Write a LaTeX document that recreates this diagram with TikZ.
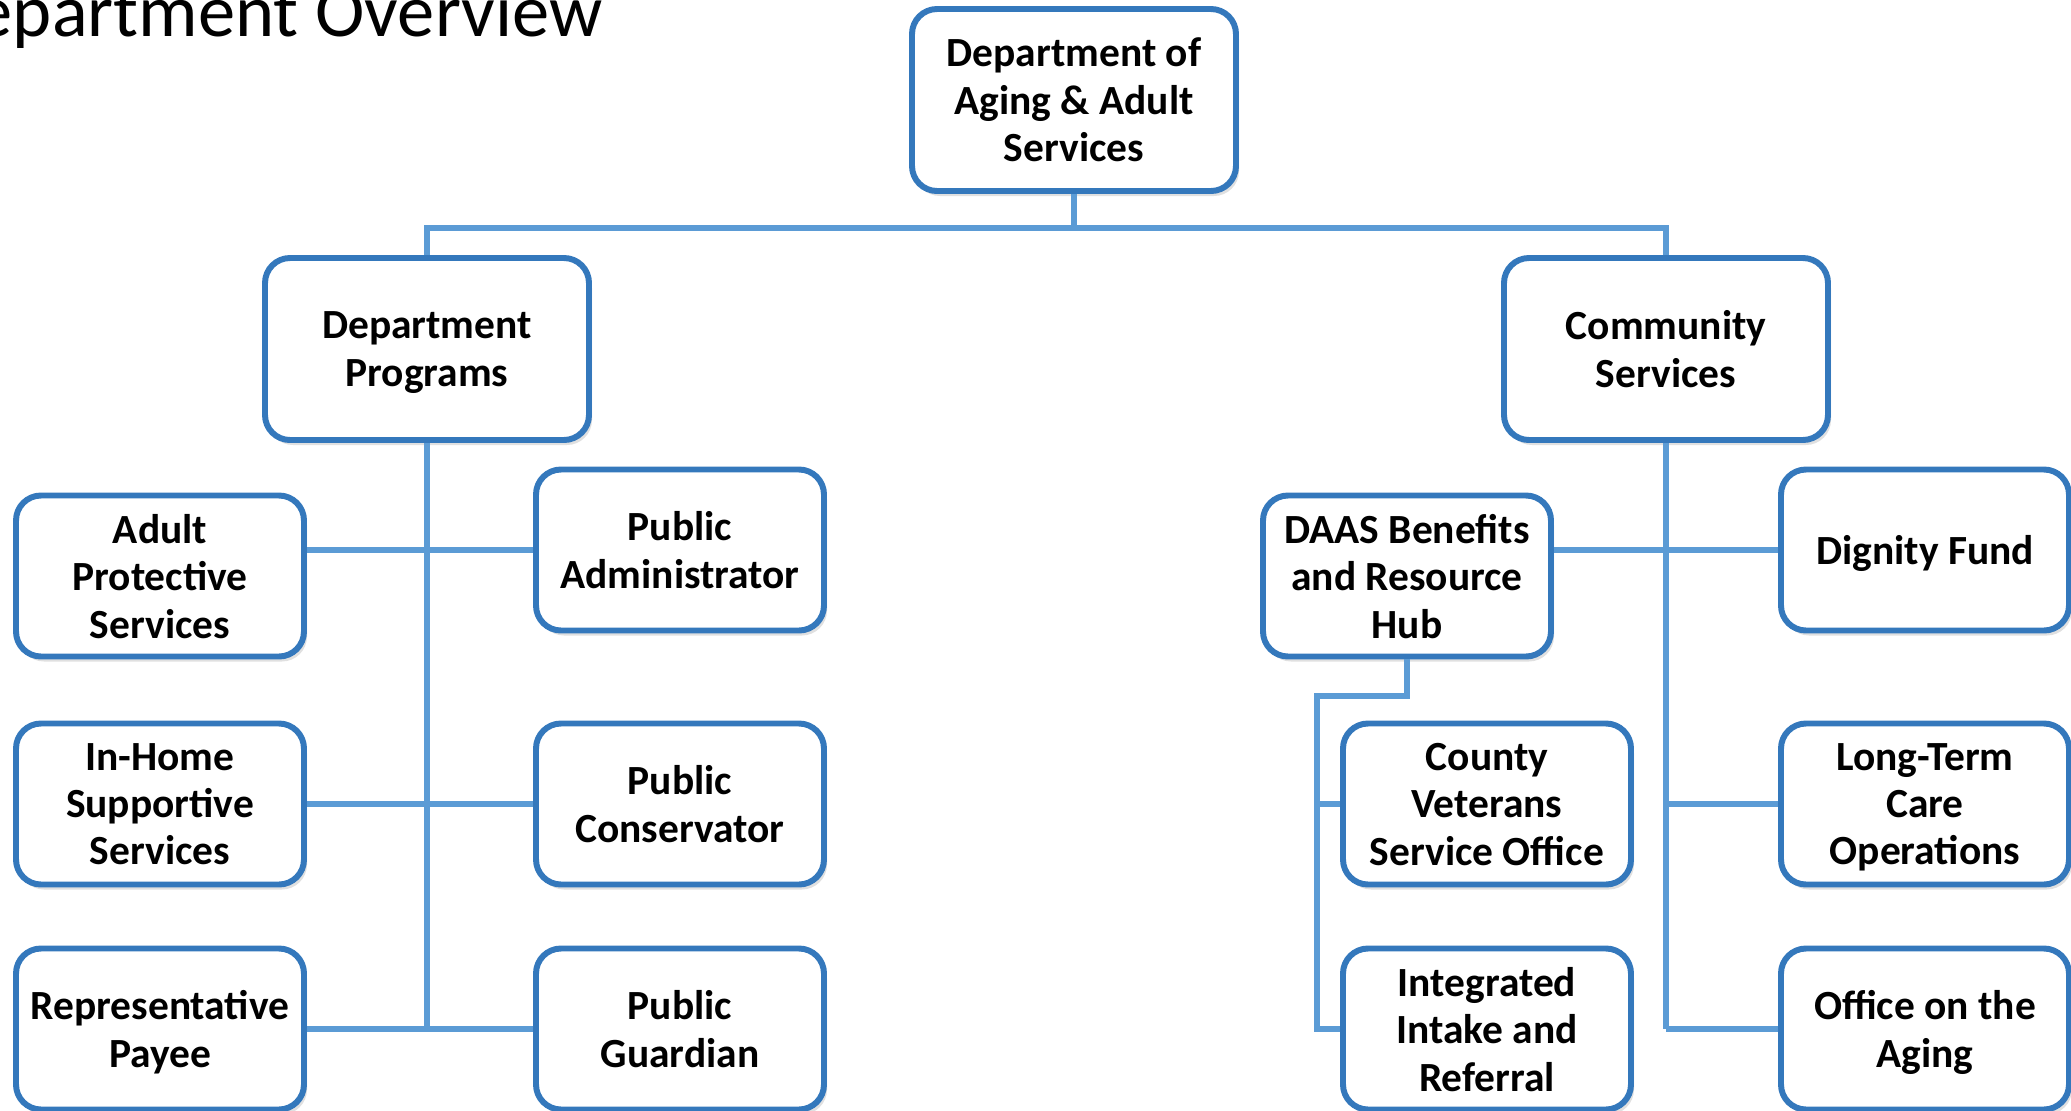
\documentclass[tikz,border=0pt]{standalone}
\usepackage{fontspec}
\setmainfont{Carlito}
\usetikzlibrary{shadows}
\definecolor{boxblue}{RGB}{52,120,188}
\definecolor{lineblue}{RGB}{91,155,213}
\tikzset{
  unit/.style={draw=boxblue, line width=1.7pt, fill=white, rounded corners=0.25cm,
    align=center, inner sep=0pt, text depth=0pt, minimum width=2.88cm, minimum height=1.61cm,
    font=\fontsize{11.8}{13.5}\selectfont\bfseries,
    drop shadow={shadow xshift=0.03cm, shadow yshift=-0.05cm, opacity=0.12, fill=black}},
  head/.style={unit, minimum width=3.24cm, minimum height=1.82cm},
  link/.style={draw=lineblue, line width=1.5pt}
}
\begin{document}
\begin{tikzpicture}
      \useasboundingbox (0,0) rectangle (20.71,-11.11);
      \clip (0,0) rectangle (20.71,-11.11);
      \node[anchor=base east, inner sep=0pt, font=\fontsize{21.2}{25}\selectfont] (title) at (6.03,-0.36) {Department Overview};
      \draw
        (10.74,-1.00) node[head] (0){Department of\\Aging \& Adult\\Services}
        (4.27,-3.49) node[head] (1){Department\\Programs}
        (16.66,-3.49) node[head] (2){Community\\Services}
        (1.60,-5.76) node[unit] (3){Adult\\Protective\\Services}
        (1.60,-8.04) node[unit] (4){In-Home\\Supportive\\Services}
        (1.60,-10.29) node[unit] (5){Representative\\Payee}
        (6.80,-5.50) node[unit] (6){Public\\Administrator}
        (6.80,-8.04) node[unit] (7){Public\\Conservator}
        (6.80,-10.29) node[unit] (8){Public\\Guardian}
        (14.07,-5.76) node[unit] (9){DAAS Benefits\\and Resource\\Hub}
        (19.25,-5.50) node[unit] (10){Dignity Fund}
        (14.87,-8.04) node[unit] (11){County\\Veterans\\Service Office}
        (14.87,-10.29) node[unit] (12){Integrated\\Intake and\\Referral}
        (19.25,-8.04) node[unit] (13){Long-Term\\Care\\Operations}
        (19.25,-10.29) node[unit] (14){Office on the\\Aging};
      \coordinate (t) at (10.74,-2.28);
      \coordinate (k) at (13.17,-6.96);
      \begin{scope}[link]
        \draw (0.south) -- (t);
        \draw (1.north) |- (t) -| (2.north);
        \draw (1.south) -- (1.south |- 8.west);
        \draw (3.east |- 6.west) -- (6.west);
        \draw (4.east) -- (7.west);
        \draw (5.east) -- (8.west);
        \draw (2.south) -- (2.south |- 14.west);
        \draw (9.east |- 10.west) -- (10.west);
        \draw (2.south |- 13.west) -- (13.west);
        \draw (2.south |- 14.west) -- (14.west);
        \draw (9.south) |- (k) |- (12.west);
        \draw (k) |- (11.west);
      \end{scope}
    \end{tikzpicture}
\end{document}
